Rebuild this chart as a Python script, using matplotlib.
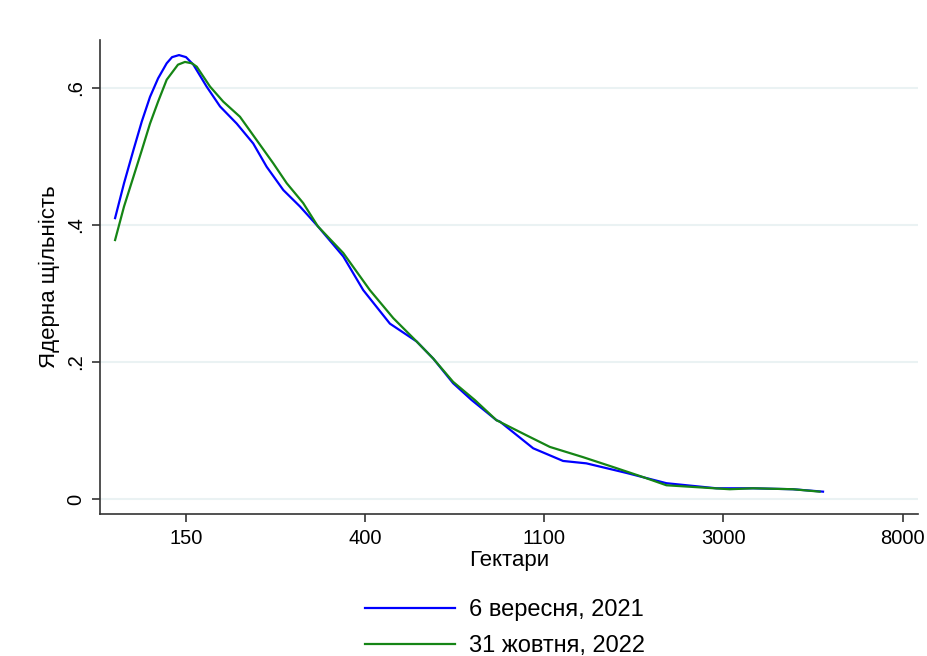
import numpy as np
import matplotlib
matplotlib.use('Agg')
import matplotlib.pyplot as plt

plt.rcParams['font.family'] = ['Liberation Sans', 'DejaVu Sans']

# ln(hectares) on x, kernel density on y
x_2021 = [4.604, 4.654, 4.706, 4.753, 4.799, 4.844, 4.892, 4.922, 4.961, 5.000,
          5.041, 5.115, 5.190, 5.283, 5.375,
          5.450, 5.543, 5.636, 5.736, 5.878, 5.989, 6.138, 6.287, 6.380, 6.491,
          6.594, 6.733, 6.752, 6.938, 7.105, 7.235, 7.459, 7.682, 7.961, 8.165,
          8.388, 8.556]
y_2021 = [0.410, 0.461, 0.509, 0.551, 0.587, 0.614, 0.636, 0.645, 0.648, 0.645,
          0.634, 0.602, 0.573, 0.548, 0.519,
          0.485, 0.451, 0.427, 0.398, 0.354, 0.305, 0.256, 0.230, 0.205, 0.169,
          0.1445, 0.115, 0.113, 0.074, 0.0555, 0.052, 0.038, 0.023, 0.0156, 0.0156,
          0.0142, 0.0107]

x_2022 = [4.604, 4.654, 4.706, 4.753, 4.799, 4.844, 4.892, 4.955, 4.994, 5.033,
          5.060, 5.134, 5.208, 5.301, 5.394,
          5.487, 5.562, 5.654, 5.736, 5.878, 6.026, 6.157, 6.287, 6.380, 6.491,
          6.612, 6.733, 6.900, 7.031, 7.217, 7.403, 7.551, 7.682, 8.035, 8.165,
          8.388, 8.537]
y_2022 = [0.378, 0.427, 0.470, 0.509, 0.548, 0.580, 0.612, 0.634, 0.638, 0.636,
          0.631, 0.602, 0.580, 0.558, 0.524,
          0.490, 0.461, 0.432, 0.398, 0.359, 0.305, 0.264, 0.230, 0.205, 0.171,
          0.1445, 0.115, 0.093, 0.076, 0.061, 0.045, 0.032, 0.020, 0.0142, 0.0156,
          0.0142, 0.0107]

x_ticks = [5, 6, 7, 8, 9]
x_ticklabels = ['150', '400', '1100', '3000', '8000']
y_ticks = [0, 0.2, 0.4, 0.6]
y_ticklabels = ['0', '.2', '.4', '.6']

BLUE = '#0000ff'
GREEN = '#158515'

fig = plt.figure(figsize=(9.28, 6.56), dpi=100)
ax = fig.add_axes([0.1078, 0.2165, 0.881, 0.7225])

for y in y_ticks:
    ax.axhline(y, color='#eaf2f3', lw=1.5, zorder=0)

ax.plot(x_2021, y_2021, color=BLUE, lw=1.6, label='6 вересня, 2021')
ax.plot(x_2022, y_2022, color=GREEN, lw=1.6, label='31 жовтня, 2022')

ax.set_xlim(4.52, 9.084)
ax.set_ylim(-0.0219, 0.670)
ax.set_xticks(x_ticks)
ax.set_xticklabels(x_ticklabels, fontsize=14.5)
ax.set_yticks(y_ticks)
ax.set_yticklabels(y_ticklabels, fontsize=14.5, rotation=90, va='center')
ax.tick_params(length=6, width=1.2, color='#333333', pad=5)

for s in ['top', 'right']:
    ax.spines[s].set_visible(False)
for s in ['left', 'bottom']:
    ax.spines[s].set_color('#333333')
    ax.spines[s].set_linewidth(1.2)

ax.set_xlabel('Гектари', fontsize=16, labelpad=1)
ax.set_ylabel('Ядерна щільність', fontsize=16, labelpad=4)

fig.legend(loc='upper center', bbox_to_anchor=(0.544, 0.119), frameon=False,
           fontsize=17, handlelength=3.8, handletextpad=0.6, labelspacing=0.6)

fig.savefig('out.png', dpi=100)
